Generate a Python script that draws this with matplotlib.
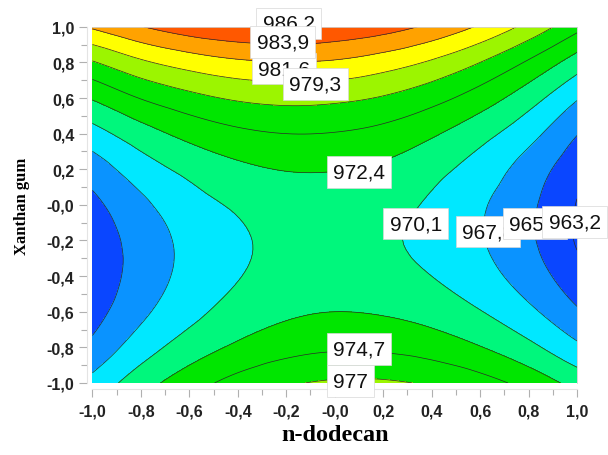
import matplotlib
matplotlib.use("Agg")
import numpy as np
import matplotlib.pyplot as plt
import matplotlib.tri as mtri
from matplotlib.ticker import MultipleLocator

# coded factor levels: n-dodecan (x) and xanthan gum (y)
x_vals = [-1.0, -0.8, -0.6, -0.4, -0.2, 0.0, 0.2, 0.4, 0.6, 0.8, 1.0]
y_vals = [-1.0, -0.8, -0.6, -0.4, -0.2, 0.0, 0.2, 0.4, 0.6, 0.8, 1.0]

# response values, one row per y value (bottom row first)
z_rows = [
    [968.5, 971.4, 973.7, 975.5, 976.7, 977.3, 977.3, 976.7, 975.6, 973.9, 971.6],
    [966.1, 969.0, 971.2, 972.8, 973.9, 974.4, 974.3, 973.7, 972.5, 970.7, 968.3],
    [964.6, 967.3, 969.4, 971.0, 972.0, 972.4, 972.2, 971.5, 970.2, 968.3, 965.8],
    [963.9, 966.5, 968.5, 970.0, 970.9, 971.2, 970.9, 970.1, 968.7, 966.7, 964.1],
    [964.0, 966.5, 968.4, 969.8, 970.6, 970.8, 970.4, 969.5, 968.0, 965.9, 963.0],
    [964.9, 967.3, 969.2, 970.4, 971.1, 971.3, 970.8, 969.8, 968.1, 966.0, 963.1],
    [966.6, 969.0, 970.7, 971.9, 972.5, 972.5, 972.0, 970.8, 969.1, 966.8, 964.0],
    [969.2, 971.4, 973.1, 974.2, 974.7, 974.6, 974.0, 972.7, 970.9, 968.6, 965.6],
    [972.6, 974.8, 976.3, 977.3, 977.7, 977.5, 976.8, 975.5, 973.6, 971.1, 968.0],
    [976.8, 978.9, 980.3, 981.2, 981.5, 981.3, 980.4, 979.0, 977.0, 974.4, 971.3],
    [981.9, 983.8, 985.2, 986.0, 986.3, 985.8, 984.9, 983.4, 981.3, 978.6, 975.4],
]

# contour levels and the labels printed on the map
contour_levels = [963.2, 965.5, 967.8, 970.1, 972.4, 974.7, 977.0, 979.3, 981.6, 983.9, 986.2]
# drawn in this order, later ones sit on top
label_texts = ["986,2", "981,6", "983,9", "979,3", "977", "974,7",
               "972,4", "970,1", "967,8", "965,5", "963,2"]

tick_vals = [-1.0, -0.8, -0.6, -0.4, -0.2, 0.0, 0.2, 0.4, 0.6, 0.8, 1.0]
tick_labels = ["-1,0", "-0,8", "-0,6", "-0,4", "-0,2", "-0,0",
               "0,2", "0,4", "0,6", "0,8", "1,0"]

# band colours, lowest band first
band_colors = ["#0a46ff", "#0a46ff", "#0a93ff", "#00e8ff", "#00f77c", "#00e600",
               "#00e600", "#9cf500", "#ffff00", "#ffa200", "#ff5800", "#ff3000"]

# where each label box sits (data coords), same order as label_texts
label_xy = [(-0.19, 1.02), (-0.21, 0.765), (-0.215, 0.915), (-0.08, 0.68),
            (0.065, -0.99), (0.10, -0.81), (0.10, 0.185), (0.335, -0.105),
            (0.633, -0.15), (0.826, -0.105), (0.99, -0.095)]

X, Y = np.meshgrid(x_vals, y_vals)
Z = np.array(z_rows)

# smooth the map with matplotlib's own triangulation refiner
tri = mtri.Triangulation(X.ravel(), Y.ravel())
interp = mtri.CubicTriInterpolator(tri, Z.ravel(), kind="geom")
tri_fine, z_fine = mtri.UniformTriRefiner(tri).refine_field(
    Z.ravel(), triinterpolator=interp, subdiv=3)

fig = plt.figure(figsize=(6.08, 4.56), dpi=100)
ax = fig.add_axes([0.152, 0.158, 0.797, 0.781])

fill_levels = [955.0] + contour_levels + [995.0]
ax.tricontourf(tri_fine, z_fine, levels=fill_levels, colors=band_colors)
ax.tricontour(tri_fine, z_fine, levels=contour_levels, colors="#2a2a2a", linewidths=0.5)

for txt, (lx, ly) in zip(label_texts, label_xy):
    ax.text(lx, ly, txt, ha="center", va="center", fontsize=15,
            family="Liberation Sans", color="#111111", clip_on=False,
            bbox=dict(boxstyle="square,pad=0.3", fc="white", ec="#d8d8d8", lw=0.5))

ax.set_xlim(-1, 1)
ax.set_ylim(-1, 1)
ax.set_xticks(tick_vals)
ax.set_xticklabels(tick_labels)
ax.set_yticks(tick_vals)
ax.set_yticklabels(tick_labels)
ax.xaxis.set_minor_locator(MultipleLocator(0.1))
ax.yaxis.set_minor_locator(MultipleLocator(0.1))

for side in ["left", "bottom"]:
    ax.spines[side].set_position(("outward", 4))
    ax.spines[side].set_color("#e4e4e4")
for side in ["top", "right"]:
    ax.spines[side].set_color("#d0d0d0")
    ax.spines[side].set_linewidth(0.6)

ax.tick_params(which="major", direction="out", length=6, width=0.8, color="#b0b0b0")
ax.tick_params(which="minor", direction="out", length=4, width=0.8, color="#b0b0b0")
ax.tick_params(axis="x", pad=5)
ax.tick_params(axis="y", pad=3)
for lab in ax.get_xticklabels() + ax.get_yticklabels():
    lab.set_fontfamily("Liberation Sans")
    lab.set_fontweight("bold")
    lab.set_fontsize(11.5)
    lab.set_color("#222222")

ax.set_xlabel("n-dodecan", family="Liberation Serif", fontweight="bold",
              fontsize=17.5, labelpad=4)
ax.set_ylabel("Xanthan gum", family="Liberation Serif", fontweight="bold",
              fontsize=12, labelpad=12)

fig.savefig("out.png", dpi=100)
